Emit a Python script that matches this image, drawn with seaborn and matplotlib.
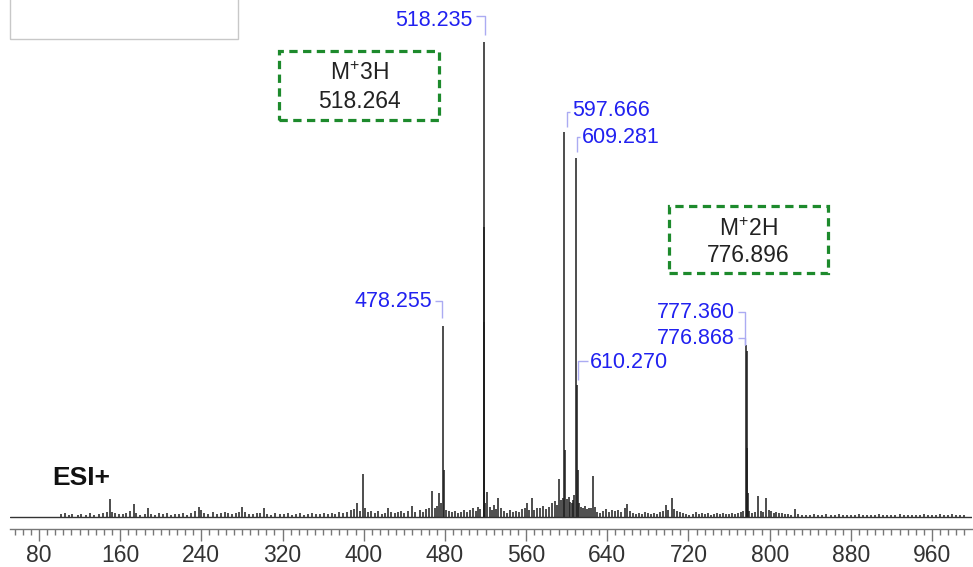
import numpy as np
import pandas as pd
import matplotlib
matplotlib.use("Agg")
import matplotlib.pyplot as plt
from matplotlib.patches import Rectangle
import seaborn as sns

# ---------------- data ----------------
peak_mz = [518.235, 597.666, 609.281, 478.255, 776.868, 777.360, 610.270]
peak_int = [100.0, 81.0, 75.6, 40.2, 36.2, 35.0, 27.8]
peak_labels = ["518.235", "597.666", "609.281", "478.255", "776.868", "777.360", "610.270"]

minor_mz = [518.568, 518.902, 598.167, 479.25, 610.77, 777.86, 778.4, 519.5]
minor_int = [61.0, 41.0, 14.0, 10.0, 10.0, 14.5, 5.0, 3.0]

noise_mz = [102, 106, 110, 113, 118, 121, 126, 130, 134, 139, 143, 147, 150.1, 152, 155,
            159, 163, 166, 170, 173.5, 176, 180, 184, 187, 190, 194, 198, 202, 206, 210,
            214, 218, 222, 226, 230, 234, 237.5, 240, 243, 247, 251, 255, 259, 263, 266,
            270, 274, 277, 280, 283, 287, 291, 295, 298, 302, 305, 309, 313, 317, 321,
            325, 329, 333, 337, 341, 345, 349, 353, 357, 361, 365, 369, 372, 376, 380,
            384, 387, 390, 393, 396, 399.2, 401, 404, 407, 411, 414, 418, 421, 424, 427,
            431, 434, 437, 440, 444, 448, 451, 455, 458, 461, 464, 467.5, 470, 472, 474.6,
            476, 481, 484, 487, 490, 493, 496, 499, 502, 505, 508, 511, 513, 515, 521.8,
            524, 526, 528, 530, 532.8, 535, 538, 541, 544, 547, 550, 553, 556, 559, 561,
            563, 566, 568, 571, 574, 577, 580, 583, 586, 588, 590, 592.2, 594, 596, 600,
            601.8, 603, 605, 606.5, 607.5, 612, 614, 616, 618, 620, 622, 624, 626.2, 628,
            630, 633, 636, 639, 642, 645, 648, 651, 654, 657, 659.3, 662, 665, 668, 671,
            674, 677, 680, 683, 686, 689, 692, 695, 698, 700, 703.8, 706, 709, 712, 715,
            718, 721, 724, 727, 730, 733, 736, 739, 742, 745, 748, 751, 754, 757, 760,
            763, 766, 769, 772, 774, 780, 783, 786, 788.5, 791, 793, 796.8, 799, 801, 804,
            806, 809, 812, 815, 818, 821, 825, 828, 832, 836, 840, 844, 848, 852, 856,
            860, 864, 868, 872, 876, 880, 884, 888, 892, 896, 900, 904, 908, 912, 916,
            920, 924, 928, 932, 936, 940, 944, 948, 952, 956, 960, 964, 968, 972, 976,
            980, 984, 988, 992]
noise_int = [0.6, 0.9, 0.5, 0.7, 0.4, 0.6, 0.5, 0.8, 0.5, 0.6, 0.9, 1.1, 3.8, 1.0, 0.8,
             0.6, 0.7, 0.9, 1.2, 2.7, 0.8, 0.5, 0.6, 2.0, 0.7, 0.5, 0.9, 0.6, 0.8, 0.5,
             0.7, 0.6, 0.8, 0.5, 0.9, 1.3, 2.2, 1.4, 0.9, 0.6, 1.0, 0.7, 0.9, 1.1, 0.8,
             0.6, 0.9, 1.0, 2.1, 1.1, 0.7, 0.6, 0.8, 0.9, 1.8, 0.7, 0.5, 0.8, 0.6, 0.7,
             0.9, 0.5, 0.6, 0.8, 0.5, 0.6, 0.9, 0.7, 0.6, 0.8, 0.7, 0.9, 0.6, 1.0, 0.8,
             1.1, 1.4, 1.6, 2.9, 1.2, 9.0, 1.8, 1.0, 1.3, 0.8, 1.2, 0.7, 0.9, 2.0, 1.1,
             0.8, 1.0, 1.3, 0.9, 1.2, 2.3, 1.0, 1.4, 1.1, 1.7, 2.0, 5.5, 1.8, 2.4, 5.0,
             3.0, 1.5, 1.2, 1.0, 1.3, 0.9, 1.1, 1.4, 1.0, 1.5, 1.8, 1.3, 2.2, 1.6, 5.3,
             2.1, 1.5, 2.5, 1.7, 4.0, 1.8, 1.2, 0.9, 1.4, 1.0, 1.2, 1.1, 1.6, 2.0, 3.0,
             1.4, 4.0, 1.5, 1.8, 2.0, 2.4, 1.7, 2.2, 2.9, 3.4, 2.6, 8.0, 3.5, 4.0, 3.8,
             4.2, 3.2, 3.0, 3.6, 4.6, 3.0, 2.2, 1.8, 2.4, 1.6, 1.9, 2.0, 8.6, 2.2,
             1.0, 0.9, 1.3, 1.6, 1.1, 1.4, 1.2, 1.5, 1.0, 1.8, 2.7, 1.2, 0.8, 0.6, 0.9,
             0.7, 1.0, 0.8, 0.6, 0.9, 0.7, 1.0, 1.3, 2.5, 1.4, 4.0, 1.6, 1.2, 1.0, 0.8,
             0.6, 0.5, 0.6, 1.0, 0.7, 0.9, 0.6, 0.8, 0.5, 0.7, 0.9, 0.6, 0.8, 0.7, 0.6,
             0.9, 0.7, 0.8, 1.0, 1.2, 1.2, 0.9, 1.1, 4.4, 1.3, 1.1, 4.0, 1.5, 1.2, 0.9,
             1.0, 0.8, 0.9, 0.7, 0.6, 0.5, 1.7, 0.6, 0.5, 0.4, 0.5, 0.6, 0.4, 0.5, 0.6,
             0.4, 0.5, 0.6, 0.4, 0.5, 0.4, 0.5, 0.6, 0.4, 0.5, 0.4, 0.5, 0.6, 0.4, 0.5,
             0.4, 0.5, 0.7, 0.5, 0.4, 0.5, 0.4, 0.5, 0.6, 0.4, 0.5, 0.4, 0.6, 0.4, 0.5,
             0.7, 0.4, 0.5, 0.4]

box_titles = ["M$^{+}$3H", "M$^{+}$2H"]
box_values = ["518.264", "776.896"]
x_ticks = [80, 160, 240, 320, 400, 480, 560, 640, 720, 800, 880, 960]
annotation_text = "ESI+"

# ---------------- style ----------------
sns.set_theme(style="white")
plt.rcParams["font.family"] = ["Liberation Sans", "DejaVu Sans"]
plt.rcParams["mathtext.fontset"] = "custom"
plt.rcParams["mathtext.rm"] = "Liberation Sans"
plt.rcParams["mathtext.it"] = "Liberation Sans"
plt.rcParams["mathtext.bf"] = "Liberation Sans:bold"

W, H = 973, 567
fig = plt.figure(figsize=(W / 100, H / 100), dpi=100)
ax = fig.add_axes([10 / W, 1 - 529 / H, 962 / W, 529 / H])

ax.set_xlim(51.42, 999.4)
ax.set_ylim(-2.526, 108.84)

all_df = pd.DataFrame({
    "mz": list(noise_mz) + list(minor_mz) + list(peak_mz),
    "int": list(noise_int) + list(minor_int) + list(peak_int),
})
ax.vlines(all_df["mz"], 0, all_df["int"], color="#1c1c1c", lw=1.1)
ax.axhline(0, color="#333333", lw=1.0)

sns.despine(ax=ax, left=True, top=True, right=True)
ax.spines["bottom"].set_color("#777777")
ax.spines["bottom"].set_linewidth(1.0)
ax.set_yticks([])
ax.set_xticks(x_ticks)
ax.set_xticks(np.arange(56, 1000, 8), minor=True)
ax.tick_params(axis="x", which="major", direction="out", length=8.5, width=1.0,
               color="#777777", labelsize=16.5, labelcolor="#333333", pad=2.5, bottom=True)
ax.tick_params(axis="x", which="minor", direction="out", length=4.3, width=1.0,
               color="#777777", bottom=True)
ax.grid(False)


def P(px, py):
    """figure pixel (from top-left) -> data coords"""
    return ax.transData.inverted().transform((px, H - py))


blue = "#2121f0"
conn = "#ababf2"

# label specs: text x px, text y px, ha, corner x px, corner y px, bottom y px
label_spec = {
    "518.235": (473, 20, "right", 485, 16, 35),
    "597.666": (572, 111, "left", 567, 112, 127),
    "609.281": (582, 137, "left", 577, 137, 152),
    "478.255": (432, 302, "right", 442, 301, 318),
    "610.270": (590, 362, "left", 578, 361, 380),
    "777.360": (735, 312, "right", 745, 312, 345),
    "776.868": (735, 338, "right", 745, 338, 345),
}
for lab in peak_labels:
    tx, ty, ha, cx, cy, by = label_spec[lab]
    x, y = P(tx, ty)
    ax.text(x, y, lab, color=blue, fontsize=15.5, ha=ha, va="center")
    sx = tx + 3 if ha == "right" else tx - 2
    p1 = P(sx, cy)
    p2 = P(cx, cy)
    p3 = P(cx, by)
    ax.plot([p1[0], p2[0], p3[0]], [p1[1], p2[1], p3[1]], color=conn, lw=1.0,
            solid_capstyle="butt")

# green dashed boxes
green = "#1d8a2c"
boxes = [(279, 51, 439, 120), (669, 206, 828, 273)]
for (x0, y0, x1, y1), t1, t2 in zip(boxes, box_titles, box_values):
    a = P(x0, y1)
    b = P(x1, y0)
    ax.add_patch(Rectangle((a[0], a[1]), b[0] - a[0], b[1] - a[1], fill=False,
                           edgecolor=green, lw=2.3, linestyle=(0, (2.6, 1.7))))
    cx = (x0 + x1) / 2
    xa, ya = P(cx, y0 + 23)
    ax.text(xa, ya, t1, fontsize=16.5, color="#222222", ha="center", va="center")
    xb, yb = P(cx, y0 + 50)
    ax.text(xb, yb, t2, fontsize=16.5, color="#222222", ha="center", va="center")

# ESI+ label
xe, ye = P(52, 478)
ax.text(xe, ye, annotation_text, fontsize=19, fontweight="bold", color="#111111",
        ha="left", va="center")

# top-left empty box
fig.add_artist(Rectangle((10 / W, 1 - 39 / H), 228 / W, 45 / H, transform=fig.transFigure,
                         fill=False, edgecolor="#c8c8c8", lw=1.0))

fig.savefig("out.png", dpi=100)
